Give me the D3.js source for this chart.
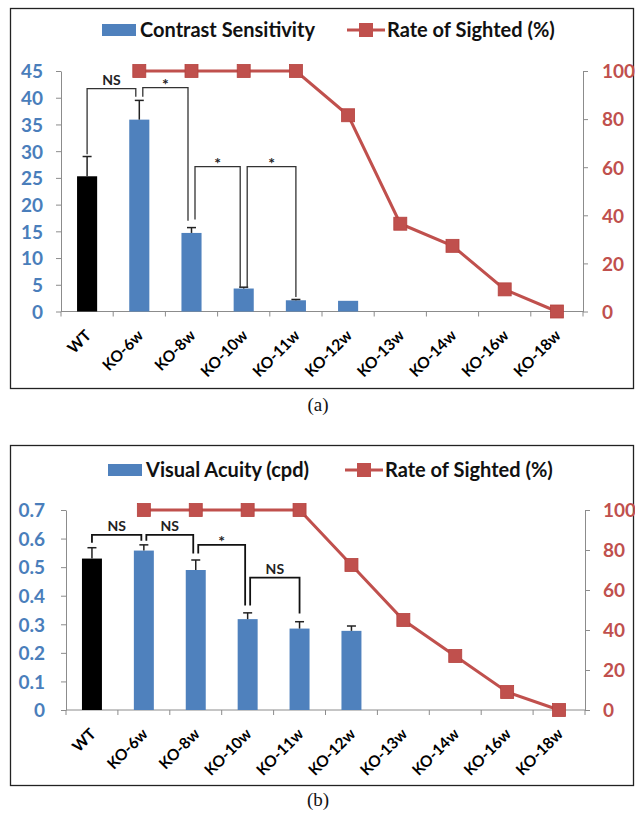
<!DOCTYPE html>
<html><head><meta charset="utf-8">
<script src="https://cdn.jsdelivr.net/npm/d3@7"></script>
<style>
html,body{margin:0;padding:0;background:#fff;}
svg{display:block;}
</style></head>
<body>
<svg id="chart" width="635" height="813"></svg>
<script>
// ---------- data ----------
const categories = ["WT","KO-6w","KO-8w","KO-10w","KO-11w","KO-12w","KO-13w","KO-14w","KO-16w","KO-18w"];

// Panel (a)
const contrastMean = [25.3, 35.9, 14.7, 4.3, 2.1, 2.0, null, null, null, null];
const contrastErr  = [3.7, 3.6, 1.0, 0.25, 0.15, 0, null, null, null, null];
const sightedA     = [null, 100, 100, 100, 100, 81.6, 36.5, 27.3, 9.2, 0];
const contrastTicks = [0,5,10,15,20,25,30,35,40,45];
const rateTicks = [0,20,40,60,80,100];
const bracketsA = [
  {from:0, to:1, level:41.7, endFrom:29.4, endTo:40.2, label:"NS"},
  {from:1, to:2, level:41.9, endFrom:40.2, endTo:17.0, label:"*"},
  {from:2, to:3, level:27.1, endFrom:17.2, endTo:4.6, label:"*"},
  {from:3, to:4, level:27.1, endFrom:4.6, endTo:2.7, label:"*"}
];

// Panel (b)
const acuityMean = [0.53, 0.558, 0.49, 0.318, 0.285, 0.277, null, null, null, null];
const acuityErr  = [0.038, 0.02, 0.035, 0.022, 0.024, 0.017, null, null, null, null];
const sightedB   = [null, 100, 100, 100, 100, 72.5, 45, 27, 9, 0];
const acuityTicks = [0,0.1,0.2,0.3,0.4,0.5,0.6,0.7];
const bracketsB = [
  {from:0, to:1, level:0.613, endFrom:0.585, endTo:0.592, label:"NS"},
  {from:1, to:2, level:0.613, endFrom:0.592, endTo:0.548, label:"NS"},
  {from:2, to:3, level:0.578, endFrom:0.548, endTo:0.366, label:"*"},
  {from:3, to:4, level:0.463, endFrom:0.366, endTo:0.338, label:"NS"}
];

const legendBarA = "Contrast Sensitivity";
const legendBarB = "Visual Acuity (cpd)";
const legendLine = "Rate of Sighted (%)";

// ---------- style ----------
const BLUE = "#4f81bd", RED = "#c0504d", AXIS = "#8c8c8c";
const BLUE_TXT = "#4a7ebb";
const FONT = "Lato, 'Open Sans', sans-serif";

const svg = d3.select("#chart");
svg.append("rect").attr("width",635).attr("height",813).attr("fill","#fff");

function drawPanel(cfg){
  const g = svg.append("g");
  // border
  g.append("rect").attr("x",cfg.box[0]+0.5).attr("y",cfg.box[1]+0.5)
    .attr("width",cfg.box[2]).attr("height",cfg.box[3])
    .attr("fill","none").attr("stroke","#222").attr("stroke-width",1.3);

  const x = d3.scaleBand().domain(categories).range([cfg.left, cfg.right]).padding(0);
  const y = d3.scaleLinear().domain(cfg.yDomain).range([cfg.bottom, cfg.top]);
  const y2 = d3.scaleLinear().domain([0,100]).range([cfg.bottom, cfg.top]);
  const bw = x.bandwidth()*0.385;
  const cx = c => x(c) + x.bandwidth()/2;

  // left axis
  const la = g.append("g").attr("transform",`translate(${cfg.left},0)`)
    .call(d3.axisLeft(y).tickValues(cfg.yTicks).tickSize(5).tickSizeOuter(0)
      .tickPadding(cfg.lPad).tickFormat(cfg.fmt));
  la.select(".domain").attr("stroke",AXIS);
  la.selectAll(".tick line").attr("stroke",AXIS);
  la.selectAll(".tick text").attr("fill",BLUE_TXT).attr("font-family",FONT)
    .attr("font-weight","bold").attr("font-size",cfg.tickFont).attr("dy","0.36em");

  // right axis
  const ra = g.append("g").attr("transform",`translate(${cfg.right},0)`)
    .call(d3.axisRight(y2).tickValues(rateTicks).tickSize(5).tickSizeOuter(0).tickPadding(cfg.rPad));
  ra.select(".domain").attr("stroke",AXIS);
  ra.selectAll(".tick line").attr("stroke",AXIS);
  ra.selectAll(".tick text").attr("fill",RED).attr("font-family",FONT)
    .attr("font-weight","bold").attr("font-size",cfg.tickFont).attr("dy","0.36em");

  // x axis line + boundary ticks
  g.append("line").attr("x1",cfg.left).attr("x2",cfg.right)
    .attr("y1",cfg.bottom).attr("y2",cfg.bottom).attr("stroke",AXIS);
  const bounds = categories.map(c=>x(c)).concat([cfg.right]);
  g.selectAll(null).data(bounds).enter().append("line")
    .attr("x1",d=>d).attr("x2",d=>d).attr("y1",cfg.bottom).attr("y2",cfg.bottom+5).attr("stroke",AXIS);
  g.selectAll(null).data(categories).enter().append("text")
    .attr("transform",c=>`translate(${cx(c)+5},${cfg.bottom+25}) rotate(-45)`)
    .attr("text-anchor","end").attr("font-family",FONT).attr("font-weight","bold")
    .attr("font-size",cfg.catFont).attr("fill","#000").text(c=>c);

  // bars
  const barData = categories.map((c,i)=>({c, v:cfg.mean[i], e:cfg.err[i], i})).filter(d=>d.v!=null);
  g.selectAll(null).data(barData).enter().append("rect")
    .attr("x",d=>cx(d.c)-bw/2).attr("width",bw)
    .attr("y",d=>y(d.v)).attr("height",d=>y(0)-y(d.v))
    .attr("fill",d=>d.i===0?"#000":BLUE);
  // error bars (upper only)
  const errData = barData.filter(d=>d.e>0);
  g.selectAll(null).data(errData).enter().append("line")
    .attr("x1",d=>cx(d.c)).attr("x2",d=>cx(d.c)).attr("y1",d=>y(d.v)).attr("y2",d=>y(d.v+d.e))
    .attr("stroke","#222").attr("stroke-width",1.5);
  g.selectAll(null).data(errData).enter().append("line")
    .attr("x1",d=>cx(d.c)-4.5).attr("x2",d=>cx(d.c)+4.5).attr("y1",d=>y(d.v+d.e)).attr("y2",d=>y(d.v+d.e))
    .attr("stroke","#222").attr("stroke-width",1.5);

  // significance brackets
  const isFrom = new Set(cfg.brackets.map(b=>b.from));
  const isTo = new Set(cfg.brackets.map(b=>b.to));
  cfg.brackets.forEach(b=>{
    const xa = cx(categories[b.from]) + (isTo.has(b.from)?cfg.legOff:0);
    const xb = cx(categories[b.to]) - (isFrom.has(b.to)?cfg.legOff:0);
    const yl = y(b.level);
    g.append("path")
      .attr("d",`M${xa},${y(b.endFrom)}V${yl}H${xb}V${y(b.endTo)}`)
      .attr("fill","none").attr("stroke",cfg.brColor).attr("stroke-width",cfg.brWidth);
    g.append("text").attr("x",(xa+xb)/2).attr("y",yl-(b.label==="*"? -2: 4))
      .attr("text-anchor","middle").attr("font-family",FONT).attr("font-weight","bold")
      .attr("font-size",b.label==="*"?16:14).attr("fill","#222").text(b.label);
  });

  // red line
  const lineData = categories.map((c,i)=>({c, v:cfg.rate[i]})).filter(d=>d.v!=null);
  g.append("path").datum(lineData)
    .attr("d",d3.line().x(d=>cx(d.c)).y(d=>y2(d.v)))
    .attr("fill","none").attr("stroke",RED).attr("stroke-width",3);
  g.selectAll(null).data(lineData).enter().append("rect")
    .attr("x",d=>cx(d.c)-6.5).attr("y",d=>y2(d.v)-6.5).attr("width",13).attr("height",13)
    .attr("fill",RED).attr("stroke","#b5413e").attr("stroke-width",0.8);

  // legend
  const L = cfg.legend;
  g.append("rect").attr("x",L.bx).attr("y",L.y-6).attr("width",34).attr("height",12).attr("fill",BLUE);
  g.append("text").attr("x",L.bx+38).attr("y",L.y).attr("dy","0.35em")
    .attr("font-family",FONT).attr("font-weight","bold").attr("font-size",L.font).attr("fill","#111")
    .text(cfg.barLabel);
  g.append("line").attr("x1",L.lx).attr("x2",L.lx+38).attr("y1",L.y).attr("y2",L.y)
    .attr("stroke",RED).attr("stroke-width",3);
  g.append("rect").attr("x",L.lx+19-7).attr("y",L.y-7).attr("width",14).attr("height",14).attr("fill",RED);
  g.append("text").attr("x",L.lx+40).attr("y",L.y).attr("dy","0.35em")
    .attr("font-family",FONT).attr("font-weight","bold").attr("font-size",L.font).attr("fill","#111")
    .text(legendLine);

  // caption
  svg.append("text").attr("x",318).attr("y",cfg.capY).attr("text-anchor","middle")
    .attr("font-family","'Liberation Serif', 'Times New Roman', serif").attr("font-size",19)
    .attr("fill","#111").text(cfg.caption);
}

drawPanel({
  box:[10,8,623,380], left:61, right:583, top:71, bottom:311.5,
  yDomain:[0,45], yTicks:contrastTicks, fmt:d3.format("d"),
  lPad:13, rPad:14, tickFont:19, catFont:15.5,
  mean:contrastMean, err:contrastErr, rate:sightedA, brackets:bracketsA,
  legOff:3.5, brColor:"#333", brWidth:1.3,
  legend:{bx:102, lx:347, y:30, font:20}, barLabel:legendBarA,
  capY:411, caption:"(a)"
});

drawPanel({
  box:[10,445,623,340], left:66, right:585, top:510, bottom:710,
  yDomain:[0,0.7], yTicks:acuityTicks, fmt:d=>d===0?"0":d3.format(".1f")(d),
  lPad:16, rPad:13, tickFont:19, catFont:15.5,
  mean:acuityMean, err:acuityErr, rate:sightedB, brackets:bracketsB,
  legOff:2.5, brColor:"#111", brWidth:1.8,
  legend:{bx:108, lx:345, y:470, font:20}, barLabel:legendBarB,
  capY:806, caption:"(b)"
});
</script>
</body></html>
